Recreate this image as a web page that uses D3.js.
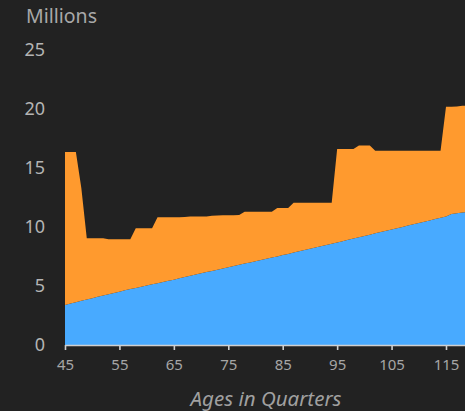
<!DOCTYPE html>
<html>
<head>
<meta charset="utf-8">
<script src="https://cdn.jsdelivr.net/npm/d3@7"></script>
<style>
  html, body { margin: 0; padding: 0; background: #222222; }
  svg { display: block; }
  text { font-family: "Noto Sans", "Open Sans", sans-serif; }
</style>
</head>
<body>
<svg id="chart" width="465" height="411"></svg>
<script>
// Age in quarters for each observation
const ages = d3.range(45, 120);

// Lower series (blue), millions
const baseSeries = [
  3.39, 3.51, 3.63, 3.75, 3.86, 3.97, 4.08, 4.19, 4.30, 4.41,
  4.52, 4.63, 4.74, 4.84, 4.94, 5.04, 5.14, 5.24, 5.34, 5.44,
  5.54, 5.65, 5.76, 5.87, 5.98, 6.08, 6.18, 6.28, 6.38, 6.48,
  6.59, 6.69, 6.80, 6.90, 7.00, 7.10, 7.20, 7.30, 7.41, 7.51,
  7.62, 7.72, 7.83, 7.94, 8.05, 8.15, 8.26, 8.37, 8.47, 8.58,
  8.69, 8.80, 8.91, 9.02, 9.13, 9.24, 9.35, 9.46, 9.57, 9.68,
  9.79, 9.90, 10.01, 10.12, 10.23, 10.34, 10.45, 10.56, 10.67, 10.78,
  10.88, 11.10, 11.16, 11.22, 11.30
];

// Stacked total (top of the orange series), millions
const totalSeries = [
  16.35, 16.35, 16.35, 13.30, 9.05, 9.05, 9.05, 9.05, 8.97, 8.97,
  8.97, 8.97, 8.97, 9.90, 9.90, 9.90, 9.90, 10.82, 10.82, 10.82,
  10.82, 10.82, 10.85, 10.90, 10.90, 10.90, 10.90, 10.95, 10.98, 11.00,
  11.00, 11.00, 11.02, 11.30, 11.30, 11.30, 11.30, 11.30, 11.30, 11.60,
  11.60, 11.60, 12.06, 12.06, 12.06, 12.06, 12.06, 12.06, 12.06, 12.06,
  16.60, 16.60, 16.60, 16.60, 16.90, 16.90, 16.90, 16.47, 16.47, 16.47,
  16.47, 16.47, 16.47, 16.47, 16.47, 16.47, 16.47, 16.47, 16.47, 16.47,
  20.20, 20.20, 20.22, 20.27, 20.30
];

const xTicks = [45, 55, 65, 75, 85, 95, 105, 115];
const yTicks = [0, 5, 10, 15, 20, 25];

const rows = ages.map((a, i) => ({ age: a, base: baseSeries[i], total: totalSeries[i] }));

const svg = d3.select("#chart");
const W = 465, H = 411;

const x = d3.scaleLinear().domain([45, 115]).range([65, 446]);
const y = d3.scaleLinear().domain([0, 25]).range([345, 50]);

const plotRight = W;

svg.append("defs").append("clipPath").attr("id", "plot")
  .append("rect").attr("x", x(45)).attr("y", 0).attr("width", plotRight - x(45)).attr("height", y(0));

const g = svg.append("g").attr("clip-path", "url(#plot)");

// blue: from zero to the lower series
g.append("path")
  .datum(rows)
  .attr("fill", "#48AAFF")
  .attr("d", d3.area().x(d => x(d.age)).y0(y(0)).y1(d => y(d.base)));

// orange: stacked on top of the blue series
g.append("path")
  .datum(rows)
  .attr("fill", "#FF9A2E")
  .attr("d", d3.area().x(d => x(d.age)).y0(d => y(d.base)).y1(d => y(d.total)));

// x axis
const xAxisScale = x.copy().domain([45, x.invert(plotRight)]).range([65, plotRight]);
const xAxis = svg.append("g")
  .attr("transform", `translate(0,${y(0)})`)
  .call(d3.axisBottom(xAxisScale).tickValues(xTicks).tickSize(5).tickSizeOuter(0).tickPadding(9));
xAxis.select(".domain").attr("stroke", "#cfcfcf").attr("stroke-width", 1.6);
xAxis.selectAll(".tick line").attr("stroke", "#cfcfcf").attr("stroke-width", 1.6);
xAxis.selectAll(".tick text")
  .attr("fill", "#a6a6a6")
  .style("font-size", "15px")
  .style("font-family", "'Noto Sans', sans-serif");

// y axis labels only
const yAxis = svg.append("g")
  .attr("transform", `translate(45,0)`)
  .call(d3.axisLeft(y).tickValues(yTicks).tickSize(0).tickPadding(0));
yAxis.select(".domain").remove();
yAxis.selectAll(".tick text")
  .attr("fill", "#b4b4b4")
  .style("font-size", "18px")
  .style("font-family", "'Noto Sans', sans-serif");

// unit label
svg.append("text")
  .attr("x", 26).attr("y", 23)
  .attr("fill", "#a8a8a8")
  .style("font-size", "19.5px")
  .text("Millions");

// x axis title
svg.append("text")
  .attr("x", 266).attr("y", 406)
  .attr("text-anchor", "middle")
  .attr("fill", "#a0a0a0")
  .style("font-size", "20.5px")
  .style("font-style", "italic")
  .text("Ages in Quarters");
</script>
</body>
</html>
